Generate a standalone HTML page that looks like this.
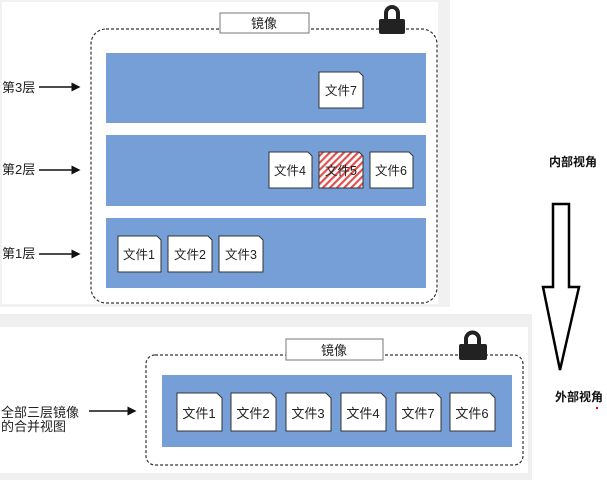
<!DOCTYPE html>
<html><head><meta charset="utf-8"><style>
html,body{margin:0;padding:0;background:#fff;}
svg{display:block;}
text{font-family:"Liberation Sans","Noto Sans CJK SC",sans-serif;}
</style></head><body>
<svg width="607" height="480" viewBox="0 0 607 480" xmlns="http://www.w3.org/2000/svg">
<defs>
<pattern id="hatch" width="5" height="5" patternUnits="userSpaceOnUse" patternTransform="rotate(45)">
<rect width="5" height="5" fill="#fff"/><rect width="2.2" height="5" fill="#e05050"/>
</pattern>
<marker id="ah" markerWidth="6" markerHeight="6" refX="5" refY="3" orient="auto"><path d="M0,0 L6,3 L0,6z" fill="#111"/></marker>
</defs>
<!-- top panel -->
<rect x="0" y="0" width="450" height="307" fill="#f1f1f1"/>
<rect x="2" y="2" width="436" height="302" fill="#fff"/>
<rect x="91" y="29" width="346" height="274" rx="15" fill="none" stroke="#333" stroke-width="1.2" stroke-dasharray="3,2"/>
<rect x="220" y="13" width="89" height="20" fill="#fff" stroke="#777" stroke-width="1"/>
<text x="264" y="28" font-size="13" text-anchor="middle" fill="#222">镜像</text>
<g fill="#222">
<path d="M384,20 v-7 a8,8 0 0 1 16,0 v7 h-4 v-7 a4,4 0 0 0 -8,0 v7z"/>
<rect x="379" y="19" width="26" height="15" rx="2"/>
</g>
<rect x="106" y="53" width="320" height="70" fill="#769fd8"/>
<rect x="106" y="135" width="320" height="71" fill="#769fd8"/>
<rect x="106" y="218" width="320" height="70" fill="#769fd8"/>
<g font-size="13" fill="#222">
<text x="2" y="92">第3层</text>
<text x="2" y="174">第2层</text>
<text x="2" y="258">第1层</text>
</g>
<g stroke="#111" stroke-width="1.5" marker-end="url(#ah)">
<line x1="39" y1="87" x2="79" y2="87"/>
<line x1="39" y1="170" x2="79" y2="170"/>
<line x1="39" y1="254" x2="79" y2="254"/>
</g>
<g stroke="#333" stroke-width="1" font-size="12.5" fill="#222">
<path d="M319,72 h40 l4,4 v32 h-44z" fill="#fff"/>
<path d="M269,152 h39 l4,4 v32 h-43z" fill="#fff"/>
<path d="M319,152 h40 l4,4 v32 h-44z" fill="url(#hatch)"/>
<path d="M370,152 h39 l4,4 v32 h-43z" fill="#fff"/>
<path d="M118,236 h39 l4,4 v32 h-43z" fill="#fff"/>
<path d="M168,236 h40 l4,4 v32 h-44z" fill="#fff"/>
<path d="M219,236 h40 l4,4 v32 h-44z" fill="#fff"/>
</g>
<g font-size="12.5" fill="#222" text-anchor="middle">
<text x="341" y="95">文件7</text>
<text x="290" y="175">文件4</text>
<text x="341" y="175">文件5</text>
<text x="391" y="175">文件6</text>
<text x="139" y="259">文件1</text>
<text x="190" y="259">文件2</text>
<text x="241" y="259">文件3</text>
</g>
<!-- bottom panel -->
<rect x="0" y="314" width="532" height="166" fill="#efefef"/>
<rect x="0" y="327" width="528" height="146" fill="#fff"/>
<rect x="146" y="355" width="377" height="110" rx="9" fill="none" stroke="#333" stroke-width="1.2" stroke-dasharray="3,2"/>
<rect x="286" y="339" width="97" height="21" fill="#fff" stroke="#777" stroke-width="1"/>
<text x="334" y="355" font-size="13" text-anchor="middle" fill="#222">镜像</text>
<g fill="#222">
<path d="M464,345 v-6 a8,8 0 0 1 17,0 v6 h-4 v-6 a4,4 0 0 0 -9,0 v6z"/>
<rect x="459" y="344" width="28" height="16" rx="2"/>
</g>
<rect x="162" y="375" width="350" height="72" fill="#769fd8"/>
<text x="1" y="417" font-size="13" fill="#222">全部三层镜像</text>
<text x="1" y="431" font-size="13" fill="#222">的合并视图</text>
<line x1="89" y1="411" x2="135" y2="411" stroke="#111" stroke-width="1.5" marker-end="url(#ah)"/>
<g stroke="#333" stroke-width="1" fill="#fff">
<path d="M177,409 m0,-16 h40 l5,5 v33 h-45z"/>
<path d="M231,393 h40 l5,5 v33 h-45z"/>
<path d="M286,393 h40 l5,5 v33 h-45z"/>
<path d="M341,393 h40 l5,5 v33 h-45z"/>
<path d="M396,393 h40 l5,5 v33 h-45z"/>
<path d="M450,393 h40 l5,5 v33 h-45z"/>
</g>
<g font-size="13" fill="#222" text-anchor="middle">
<text x="199" y="418">文件1</text>
<text x="253" y="418">文件2</text>
<text x="308" y="418">文件3</text>
<text x="363" y="418">文件4</text>
<text x="418" y="418">文件7</text>
<text x="472" y="418">文件6</text>
</g>
<!-- right side -->
<text x="549" y="166" font-size="12" font-weight="bold" fill="#111">内部视角</text>
<path d="M553,204 h16 v83 h10 l-19,83 l-17,-83 h10z" fill="none" stroke="#000" stroke-width="2.5"/>
<text x="555" y="401" font-size="12" font-weight="bold" fill="#111">外部视角</text>
<rect x="596" y="407" width="2" height="2" fill="#e00"/>
</svg>
</body></html>
